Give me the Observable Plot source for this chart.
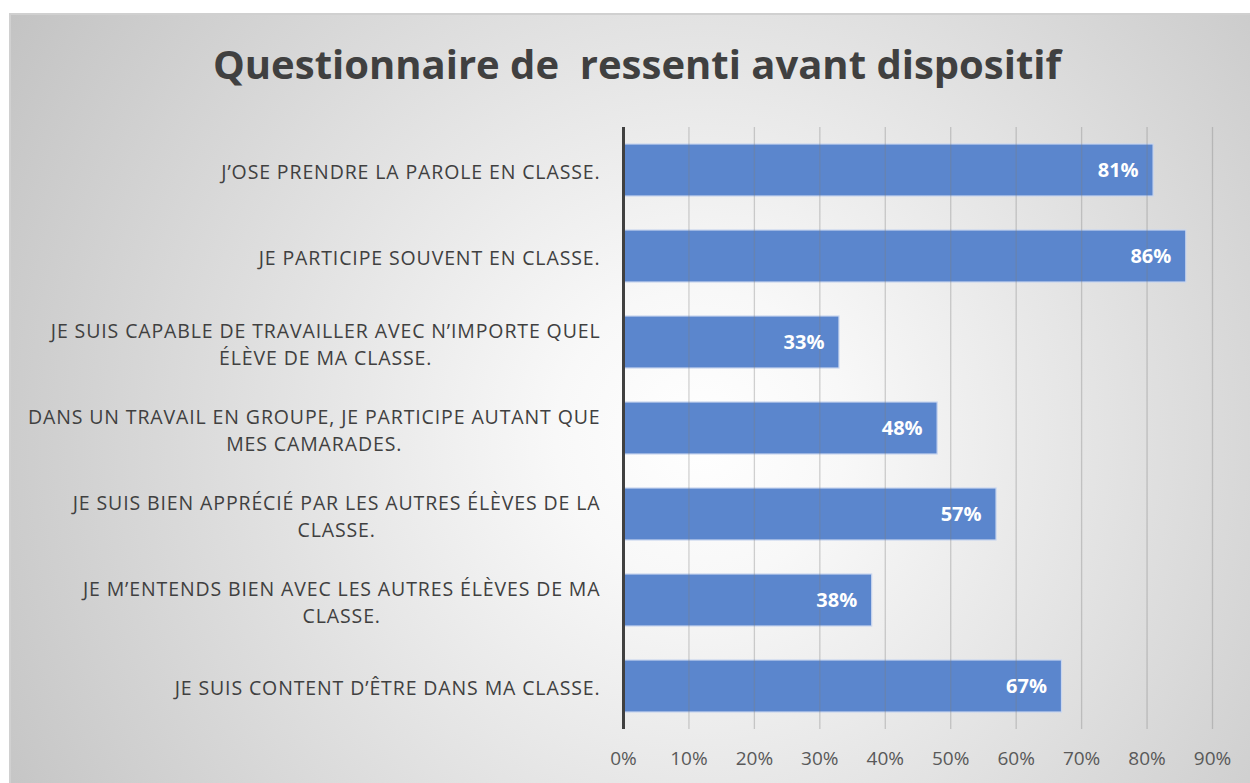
<!DOCTYPE html>
<html><head><meta charset="utf-8">
<script src="https://cdn.jsdelivr.net/npm/d3@7"></script>
<script src="https://cdn.jsdelivr.net/npm/@observablehq/plot@0.6"></script>
<style>
html,body{margin:0;padding:0;background:#fff;width:1250px;height:783px;overflow:hidden;font-family:"Open Sans",sans-serif;}
#frame{position:absolute;left:9px;top:13px;width:1260px;height:790px;border-top:2px solid #d0d0d0;border-left:2px solid #d0d0d0;
  background: radial-gradient(circle at 690px 420px, #ffffff 0%, #f8f8f8 18%, #c3c3c3 100%);}
#title{position:absolute;left:9px;width:1256px;top:36px;text-align:center;font-weight:700;font-size:40px;color:#404040;white-space:pre;}
#chart{position:absolute;left:0;top:110px;}
</style></head>
<body>
<div id="frame"></div>
<div id="title">Questionnaire de  ressenti avant dispositif</div>
<div id="chart"></div>
<script>
const categories = [
  "J’OSE PRENDRE LA PAROLE EN CLASSE.",
  "JE PARTICIPE SOUVENT EN CLASSE.",
  "JE SUIS CAPABLE DE TRAVAILLER AVEC N’IMPORTE QUEL\nÉLÈVE DE MA CLASSE.",
  "DANS UN TRAVAIL EN GROUPE, JE PARTICIPE AUTANT QUE\nMES CAMARADES.",
  "JE SUIS BIEN APPRÉCIÉ PAR LES AUTRES ÉLÈVES DE LA\nCLASSE.",
  "JE M’ENTENDS BIEN AVEC LES AUTRES ÉLÈVES DE MA\nCLASSE.",
  "JE SUIS CONTENT D’ÊTRE DANS MA CLASSE."
];
const values = [0.81, 0.86, 0.33, 0.48, 0.57, 0.38, 0.67];
const xTicks = [0, 0.1, 0.2, 0.3, 0.4, 0.5, 0.6, 0.7, 0.8, 0.9];

const data = categories.map((c, i) => ({c, v: values[i]}));

const labelFont = 19.5;
const labelSpacing = 0.88;
const ctx = document.createElement("canvas").getContext("2d");
ctx.font = `${labelFont}px "Open Sans"`;
const maxLineWidth = s => Math.max(...s.split("\n").map(l => ctx.measureText(l).width + labelSpacing * l.length));

const labelMarks = data.map(d => Plot.text([d], {
  y: "c", text: "c", frameAnchor: "left", textAnchor: "middle",
  dx: -(23 + maxLineWidth(d.c) / 2), lineHeight: 1.42,
  fontSize: labelFont, fill: "#404040", className: "catlabel"
}));

const chart = Plot.plot({
  width: 1250, height: 673,
  marginLeft: 623, marginRight: 38, marginTop: 17, marginBottom: 54,
  style: {background: "transparent", fontFamily: "'Open Sans', sans-serif"},
  x: {domain: [0, 0.9], axis: null},
  y: {domain: categories, paddingInner: 0.39, paddingOuter: 0.195, axis: null},
  marks: [
    Plot.barX(data, {x: "v", y: "c", fill: "#5B86CD", stroke: "#c9d6ef", strokeWidth: 1.2}),
    Plot.ruleX(xTicks.slice(1), {stroke: "#7f7f7f", strokeOpacity: 0.35, strokeWidth: 1.3}),
    Plot.ruleX([0], {stroke: "#404040", strokeWidth: 3}),
    Plot.text(data, {x: "v", y: "c", text: d => Math.round(d.v * 100) + "%", textAnchor: "end", dx: -15,
      fill: "white", fontWeight: 700, fontSize: 20}),
    Plot.axisX({ticks: xTicks, tickFormat: d => Math.round(d * 100) + "%", tickSize: 0, tickPadding: 22,
      fontSize: 19, color: "#595959", label: null}),
    ...labelMarks
  ]
});
chart.querySelectorAll("g.catlabel, .catlabel text").forEach(el => el.setAttribute("letter-spacing", labelSpacing));
document.getElementById("chart").appendChild(chart);
</script>
</body></html>
